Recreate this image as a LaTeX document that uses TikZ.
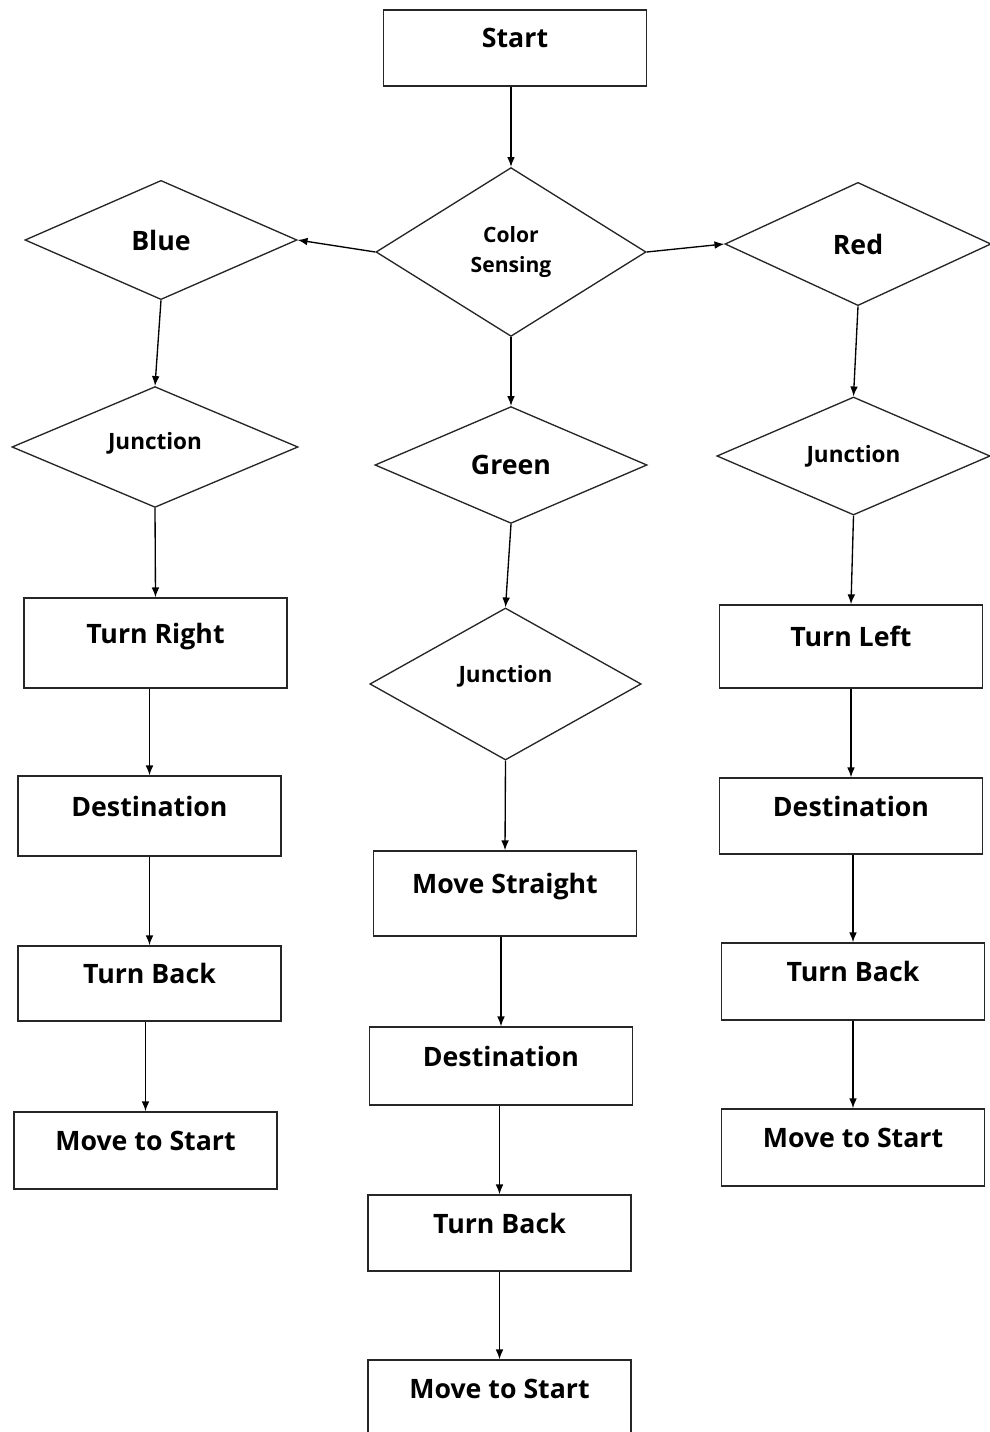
\documentclass[tikz,border=0pt]{standalone}
\usepackage{fontspec}
\setmainfont{Open Sans}
\usetikzlibrary{arrows.meta,shapes.geometric,positioning}

\begin{document}
\begin{tikzpicture}[
  x=0.025cm, y=-0.025cm,
  >={Latex[length=7pt,width=5.5pt]},
  line width=0.95pt,
  every node/.style={draw=black!85,line width=0.95pt,inner sep=2pt},
  stepbox/.style={rectangle,minimum width=6.57cm,font=\fontsize{19}{21}\selectfont\bfseries,
    text height=13.5pt,text depth=13.5pt},
  choice/.style={diamond,aspect=2.2,inner sep=0pt,font=\fontsize{19}{21}\selectfont\bfseries},
  smallchoice/.style={choice,font=\fontsize{15}{22}\selectfont\bfseries,align=center},
  ]
  \useasboundingbox (0,0) rectangle (990,1432);

  % top
  \node[stepbox, minimum height=1.9cm] (start) at (515,48) {Start};
  \node[smallchoice, minimum width=6.75cm, minimum height=4.22cm] (sense) at (511,252) {Color\\Sensing};

  % blue branch
  \node[choice, minimum width=6.8cm, minimum height=2.98cm] (blue) at (161,240) {Blue};
  \node[smallchoice, minimum width=7.15cm, minimum height=3.02cm, text depth=8pt, font=\fontsize{16}{22}\selectfont\bfseries] (juncB) at (155,447) {Junction};
  \node[stepbox, minimum height=2.25cm] (turnR) at (155.5,643) {Turn Right};
  \node[stepbox, minimum height=2cm] (destB) at (149.5,816) {Destination};
  \node[stepbox, minimum height=1.88cm] (backB) at (149.5,983.5) {Turn Back};
  \node[stepbox, minimum height=1.93cm] (moveB) at (145.5,1150.5) {Move to Start};

  % green branch
  \node[choice, minimum width=6.8cm, minimum height=2.92cm] (green) at (511,465) {Green};
  \node[smallchoice, minimum width=6.78cm, minimum height=3.8cm, text depth=14pt, font=\fontsize{16}{22}\selectfont\bfseries] (juncG) at (505.5,684) {Junction};
  \node[stepbox, minimum height=2.13cm] (moveS) at (505,893.5) {Move Straight};
  \node[stepbox, minimum height=1.95cm] (destG) at (501,1066) {Destination};
  \node[stepbox, minimum height=1.9cm] (backG) at (499.5,1233) {Turn Back};
  \node[stepbox, minimum height=1.9cm] (moveG) at (499.5,1398) {Move to Start};

  % red branch
  \node[choice, minimum width=6.65cm, minimum height=3.08cm] (red) at (858,244) {Red};
  \node[smallchoice, minimum width=6.83cm, minimum height=2.95cm, font=\fontsize{16}{22}\selectfont\bfseries] (juncR) at (853.5,456) {Junction};
  \node[stepbox, minimum height=2.08cm] (turnL) at (851,646.5) {Turn Left};
  \node[stepbox, minimum height=1.9cm] (destR) at (851,816) {Destination};
  \node[stepbox, minimum height=1.93cm] (backR) at (853,981.5) {Turn Back};
  \node[stepbox, minimum height=1.93cm] (moveR) at (853,1147.5) {Move to Start};

  \draw [->] (start.south -| sense.north) -- (sense.north);
  \draw [->] (sense.west) -- (blue.east);
  \draw [->] (sense.east) -- (red.west);
  \draw [->] (sense.south) -- (green.north);

  \draw [->] (blue.south) -- (juncB.north);
  \draw [->] (juncB.south) -- (turnR.north);
  \draw [->] (turnR.south -| destB.north) -- (destB.north);
  \draw [->] (destB.south -| backB.north) -- (backB.north);
  \draw [->] (backB.south -| moveB.north) -- (moveB.north);

  \draw [->] (green.south) -- (juncG.north);
  \draw [->] (juncG.south) -- (moveS.north);
  \draw [->] (moveS.south -| destG.north) -- (destG.north);
  \draw [->] (destG.south -| backG.north) -- (backG.north);
  \draw [->] (backG.south -| moveG.north) -- (moveG.north);

  \draw [->] (red.south) -- (juncR.north);
  \draw [->] (juncR.south) -- (turnL.north);
  \draw [->] (turnL.south -| destR.north) -- (destR.north);
  \draw [->] (destR.south -| backR.north) -- (backR.north);
  \draw [->] (backR.south -| moveR.north) -- (moveR.north);

\end{tikzpicture}
\end{document}
